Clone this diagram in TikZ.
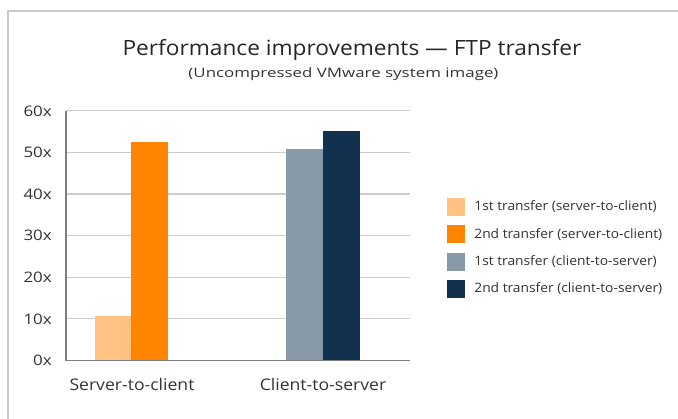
\documentclass[tikz,border=0pt]{standalone}
\usepackage{fontspec}
\setmainfont{Open Sans}
\newfontfamily\titlefont[Ligatures=TeX, FakeStretch=1.08]{Open Sans}
\newfontfamily\subtitlefont[Ligatures=TeX, FakeStretch=1.3]{Open Sans}
\newfontfamily\catfont[Ligatures=TeX, FakeStretch=1.1]{Open Sans}
\newfontfamily\tickfont[Ligatures=TeX, FakeStretch=1.17]{Open Sans}
\newfontfamily\legendfont[Ligatures=TeX, FakeStretch=1.06]{Open Sans}
\usepackage{tikz}
\usetikzlibrary{positioning}
\definecolor{lightorange}{HTML}{FFC283}
\definecolor{darkorange}{HTML}{FF8500}
\definecolor{slategray}{HTML}{8899A7}
\definecolor{navy}{HTML}{12314F}
\definecolor{gridgray}{HTML}{CDCDCD}
\definecolor{axisgray}{HTML}{7F7F83}
\definecolor{framegray}{HTML}{C9C9CD}
\definecolor{textgray}{HTML}{333333}
\tikzset{
  ticklabel/.style={anchor=east, inner sep=0pt, text=textgray, font=\tickfont\fontsize{14.5}{16}\selectfont},
  catlabel/.style={inner sep=0pt, text=textgray, font=\catfont\fontsize{16}{18}\selectfont},
  legendbox/.style={minimum width=18pt, minimum height=18pt, inner sep=0pt},
  legendtext/.style={anchor=west, inner sep=0pt, text=textgray, font=\legendfont\fontsize{13}{15}\selectfont},
  gridline/.style={line width=1.2pt, color=gridgray}
}

\begin{document}
\begin{tikzpicture}[x=1pt, y=-1pt]
			%%%%% START %%%%%
			\useasboundingbox (0, 0) rectangle (678, 419);
			
			% frame
			\draw[line width=1.5pt, color=framegray] (8, 419) -- (8, 11) -- (678, 11);
			
			% title
			\node[inner sep=0pt, text=black!85, font=\titlefont\fontsize{21}{24}\selectfont] (title) at (352, 50) {Performance improvements — FTP transfer};
			\node[inner sep=0pt, text=textgray, font=\subtitlefont\fontsize{13}{15}\selectfont] (subtitle) at (343.5, 74) {(Uncompressed VMware system image)};
			
			% grid
			\draw[gridline] (66, 110.9) -- (410, 110.9);
			\draw[gridline] (66, 152.5) -- (410, 152.5);
			\draw[gridline] (66, 194.1) -- (410, 194.1);
			\draw[gridline] (66, 235.7) -- (410, 235.7);
			\draw[gridline] (66, 277.3) -- (410, 277.3);
			\draw[gridline] (66, 318.9) -- (410, 318.9);
			
			\node[ticklabel] (t60) at (52, 110.9) {60x};
			\node[ticklabel] (t50) at (52, 152.5) {50x};
			\node[ticklabel] (t40) at (52, 194.1) {40x};
			\node[ticklabel] (t30) at (52, 235.7) {30x};
			\node[ticklabel] (t20) at (52, 277.3) {20x};
			\node[ticklabel] (t10) at (52, 318.9) {10x};
			\node[ticklabel] (t0) at (52, 360.5) {0x};
			
			% bars
			\fill[lightorange] (95, 316.0) rectangle (131, 360.5);
			\fill[darkorange] (131, 142.1) rectangle (168, 360.5);
			\fill[slategray] (286, 149.2) rectangle (323, 360.5);
			\fill[navy] (323, 130.9) rectangle (360, 360.5);
			
			% axes
			\draw[line width=1.3pt, color=axisgray] (66, 110.9) -- (66, 360.5) -- (410, 360.5);
			
			\node[catlabel] (server) at (132, 385) {Server-to-client};
			\node[catlabel] (client) at (323, 385) {Client-to-server};
			
			% legend
			\node[legendbox, fill=lightorange] (k1) at (456, 207) {};
			\node[legendbox, fill=darkorange] (k2) at (456, 234.5) {};
			\node[legendbox, fill=slategray] (k3) at (456, 262) {};
			\node[legendbox, fill=navy] (k4) at (456, 289) {};
			
			\node[legendtext, right=9pt of k1] (l1) {1st transfer (server-to-client)};
			\node[legendtext, right=9pt of k2] (l2) {2nd transfer (server-to-client)};
			\node[legendtext, right=9pt of k3] (l3) {1st transfer (client-to-server)};
			\node[legendtext, right=9pt of k4] (l4) {2nd transfer (client-to-server)};
			
			%%%%% END %%%%%
\end{tikzpicture}
\end{document}
